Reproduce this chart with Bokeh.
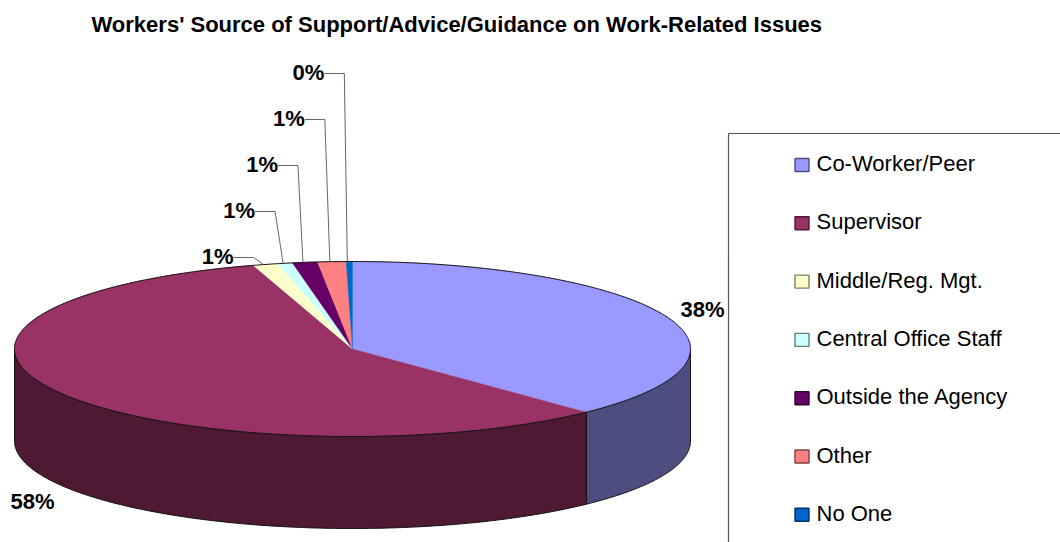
import math
from bokeh.embed import file_html
from bokeh.models import Range1d
from bokeh.plotting import figure
from bokeh.resources import INLINE
from bokeh.core.properties import value

TITLE = "Workers' Source of Support/Advice/Guidance on Work-Related Issues"
categories = ["Co-Worker/Peer", "Supervisor", "Middle/Reg. Mgt.", "Central Office Staff",
              "Outside the Agency", "Other", "No One"]
shares = [37.9, 57.5, 1.2, 0.7, 1.2, 1.35, 0.3]
top_colors = ["#9999FF", "#993366", "#FFFFCC", "#CCFFFF", "#660066", "#FF8080", "#0066CC"]
wall_colors = ["#4D4D80", "#4D1933", "#808066", "#668080", "#330033", "#804040", "#003366"]

FONT = "Liberation Sans"
W, H = 1060, 542
CX, CY, RX, RY, DEPTH = 352, 348.5, 338, 87.5, 92

p = figure(width=W, height=H, output_backend="svg", toolbar_location=None,
           x_range=Range1d(0, W), y_range=Range1d(H, 0), min_border=0,
           x_axis_type=None, y_axis_type=None, outline_line_color=None)
p.grid.visible = False


def rim(t_deg, drop=0.0):
    """Point on the pie's elliptical rim, angle clockwise from twelve o'clock."""
    t = math.radians(t_deg)
    return CX + RX * math.sin(t), CY - RY * math.cos(t) + drop


def arc(a, b, drop=0.0):
    n = max(2, int(abs(b - a) * 2))
    pts = [rim(a + (b - a) * i / n, drop) for i in range(n + 1)]
    return [q[0] for q in pts], [q[1] for q in pts]


total = sum(shares)
edges = [0.0]
for s in shares:
    edges.append(edges[-1] + 360.0 * s / total)

# outer walls: only the part of each slice facing the viewer (90 to 270 degrees)
for i, color in enumerate(wall_colors):
    a, b = max(edges[i], 90), min(edges[i + 1], 270)
    if a >= b:
        continue
    xs, ys = arc(a, b)
    xb, yb = arc(b, a, DEPTH)
    p.patch(xs + xb, ys + yb, fill_color=color, line_color="#111111", line_width=1)

# top faces
for i, color in enumerate(top_colors):
    xs, ys = arc(edges[i], edges[i + 1])
    p.patch([CX] + xs, [CY] + ys, fill_color=color, line_color=color, line_width=0.4)

rx, ry = arc(0, 360)
p.line(rx, ry, line_color="#111111", line_width=1)

# value labels: the large slices sit beside the pie, small ones get stepped leaders
LABEL_SIZE = "22px"
labels = [f"{round(s)}%" for s in shares]
p.text([680], [309], text=[labels[0]], text_font=value(FONT), text_font_size=LABEL_SIZE,
       text_font_style="bold", text_baseline="middle", text_color="#000000")
p.text([10], [501], text=[labels[1]], text_font=value(FONT), text_font_size=LABEL_SIZE,
       text_font_style="bold", text_baseline="middle", text_color="#000000")

elbow_gap = [12, 10, 7, 7, 5]
for k, i in enumerate(range(2, 7)):
    mx, my = rim((edges[i] + edges[i + 1]) / 2)
    ey = 257 - 46 * k
    ex = mx - elbow_gap[k]
    p.line([ex - 20, ex, mx - 2], [ey, ey, my], line_color="#555555", line_width=0.9)
    p.text([ex - 20], [ey - 1], text=[labels[i]], text_font=value(FONT), text_font_size=LABEL_SIZE,
           text_font_style="bold", text_align="right", text_baseline="middle",
           text_color="#000000")

p.text([91], [24], text=[TITLE], text_font=value(FONT), text_font_size="22px",
       text_font_style="bold", text_baseline="middle", text_color="#000000")

# legend frame runs off the right and bottom of the page
p.line([728, 728, W], [H, 133, 133], line_color="#555555", line_width=1.2)

for i, name in enumerate(categories):
    y = 164.5 + i * 58.3
    p.quad(left=[794.5], right=[808.5], top=[y - 6.5], bottom=[y + 6.5],
           fill_color=top_colors[i], line_color=wall_colors[i], line_width=1.4)
    p.text([816], [y - 1.5], text=[name], text_font=value(FONT), text_font_size="22px",
           text_baseline="middle", text_color="#000000")

open("out.html", "w").write(file_html(p, INLINE))
